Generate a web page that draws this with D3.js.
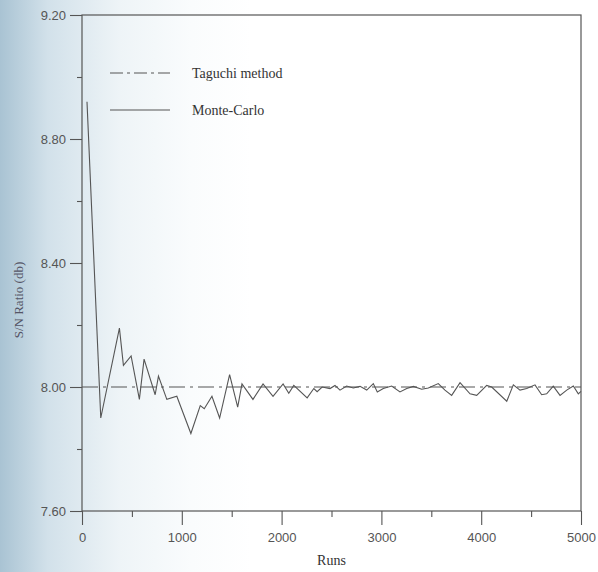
<!DOCTYPE html>
<html>
<head>
<meta charset="utf-8">
<script src="https://cdn.jsdelivr.net/npm/d3@7"></script>
<style>
body { margin: 0; background: #fff; }
svg { display: block; }
</style>
</head>
<body>
<div id="drawing"></div>
<script>
// S/N ratio vs number of Monte-Carlo runs
var runs = [50, 188, 375, 415, 492, 575, 622, 733, 766, 850, 950, 1091, 1185, 1225, 1302, 1379,
  1479, 1560, 1603, 1713, 1814, 1914, 2015, 2072, 2122, 2256, 2323, 2356, 2406, 2485, 2535,
  2585, 2652, 2718, 2786, 2853, 2919, 2959, 3019, 3103, 3186, 3254, 3320, 3404, 3470, 3570,
  3637, 3704, 3788, 3888, 3955, 4055, 4105, 4256, 4322, 4389, 4456, 4539, 4606, 4656, 4722,
  4790, 4857, 4923, 4973, 5000];
var snRatio = [8.92, 7.90, 8.19, 8.07, 8.10, 7.96, 8.09, 7.975, 8.035, 7.96, 7.97, 7.85, 7.94, 7.93, 7.97, 7.90,
  8.04, 7.935, 8.01, 7.96, 8.01, 7.97, 8.01, 7.98, 8.005, 7.965, 7.995, 7.985, 8.00, 7.995, 8.005,
  7.99, 8.003, 7.997, 8.002, 7.99, 8.011, 7.984, 7.995, 8.003, 7.984, 7.995, 8.002, 7.993, 7.997, 8.011,
  7.99, 7.973, 8.014, 7.978, 7.973, 8.005, 8.00, 7.954, 8.007, 7.99, 7.995, 8.007, 7.975, 7.978, 8.003,
  7.973, 7.99, 8.003, 7.978, 7.986];
var taguchiValue = 8.00;
var yMajor = [7.60, 8.00, 8.40, 8.80, 9.20];
var yMinor = [7.80, 8.20, 8.60, 9.00];
var xMajor = [0, 1000, 2000, 3000, 4000, 5000];
var xMinor = [500, 1500, 2500, 3500, 4500];
var legendNames = ["Taguchi method", "Monte-Carlo"];

var W = 598, H = 572;
var m = {l: 82, r: 17, t: 15, b: 61};
var w = W - m.l - m.r,
  h = H - m.t - m.b;

var ink = "#555";
var serif = "'Liberation Serif', 'DejaVu Serif', serif";
var sans = "'Liberation Sans', Arial, sans-serif";

var svg = d3.select("#drawing")
  .append("svg")
  .attr("width", W)
  .attr("height", H);

// the scan is tinted blue towards the left edge
var grad = svg.append("defs").append("linearGradient")
  .attr("id", "tint")
  .attr("x1", "0").attr("x2", "1").attr("y1", "0").attr("y2", "0");
grad.append("stop").attr("offset", "0").attr("stop-color", "#a9c3d3");
grad.append("stop").attr("offset", "0.08").attr("stop-color", "#d2e1ea");
grad.append("stop").attr("offset", "0.2").attr("stop-color", "#eef4f7");
grad.append("stop").attr("offset", "0.32").attr("stop-color", "#fafcfd");
grad.append("stop").attr("offset", "0.42").attr("stop-color", "#ffffff");
svg.append("rect")
  .attr("width", W)
  .attr("height", H)
  .attr("fill", "url(#tint)");

var g = svg.append("g")
  .attr("transform", "translate(" + m.l + "," + m.t + ")");

var x = d3.scaleLinear().domain([0, 5000]).range([0, w]);
var y = d3.scaleLinear().domain([7.60, 9.20]).range([h, 0]);

// frame
g.append("rect")
  .attr("width", w)
  .attr("height", h)
  .attr("fill", "none")
  .attr("stroke", ink)
  .attr("stroke-width", 1.2);

// y axis
g.append("g")
  .call(d3.axisLeft(y).tickValues(yMajor).tickSize(12).tickPadding(4)
    .tickFormat(d3.format(".2f")));
g.append("g")
  .call(d3.axisLeft(y).tickValues(yMinor).tickSize(5).tickFormat(""));

// x axis
g.append("g")
  .attr("transform", "translate(0," + h + ")")
  .call(d3.axisBottom(x).tickValues(xMajor).tickSize(14).tickPadding(8)
    .tickFormat(d3.format("d")));
g.append("g")
  .attr("transform", "translate(0," + h + ")")
  .call(d3.axisBottom(x).tickValues(xMinor).tickSize(6).tickFormat(""));

g.selectAll(".domain").remove();
g.selectAll(".tick line").attr("stroke", ink).attr("stroke-width", 1.1);
g.selectAll(".tick text")
  .attr("fill", ink)
  .style("font-family", sans)
  .style("font-size", "13px");

// Taguchi reference line
g.append("line")
  .attr("x1", 0)
  .attr("x2", w)
  .attr("y1", y(taguchiValue))
  .attr("y2", y(taguchiValue))
  .attr("stroke", ink)
  .attr("stroke-width", 1.1)
  .attr("stroke-dasharray", "16,5,3,5");

// Monte-Carlo curve
var line = d3.line()
  .x(function(d, i) { return x(runs[i]); })
  .y(function(d) { return y(d); });

g.append("path")
  .datum(snRatio)
  .attr("d", line)
  .attr("fill", "none")
  .attr("stroke", ink)
  .attr("stroke-width", 1.1)
  .attr("stroke-linejoin", "miter");

// legend
var leg = g.append("g")
  .attr("transform", "translate(28,58)");
legendNames.forEach(function(name, i) {
  var row = leg.append("g").attr("transform", "translate(0," + (i * 37) + ")");
  row.append("line")
    .attr("x1", 0).attr("x2", 60)
    .attr("stroke", ink)
    .attr("stroke-width", 1.1)
    .attr("stroke-dasharray", i == 0 ? "13,4,3,4" : null);
  row.append("text")
    .attr("x", 82)
    .attr("y", 5)
    .attr("fill", "#333")
    .style("font-family", serif)
    .style("font-size", "14px")
    .text(name);
});

// axis titles
svg.append("text")
  .attr("x", m.l + w / 2)
  .attr("y", 565)
  .attr("text-anchor", "middle")
  .attr("fill", "#333")
  .style("font-family", serif)
  .style("font-size", "14px")
  .text("Runs");

svg.append("text")
  .attr("transform", "translate(23,300) rotate(-90)")
  .attr("text-anchor", "middle")
  .attr("fill", "#556")
  .style("font-family", serif)
  .style("font-size", "13px")
  .text("S/N Ratio (db)");
</script>
</body>
</html>
